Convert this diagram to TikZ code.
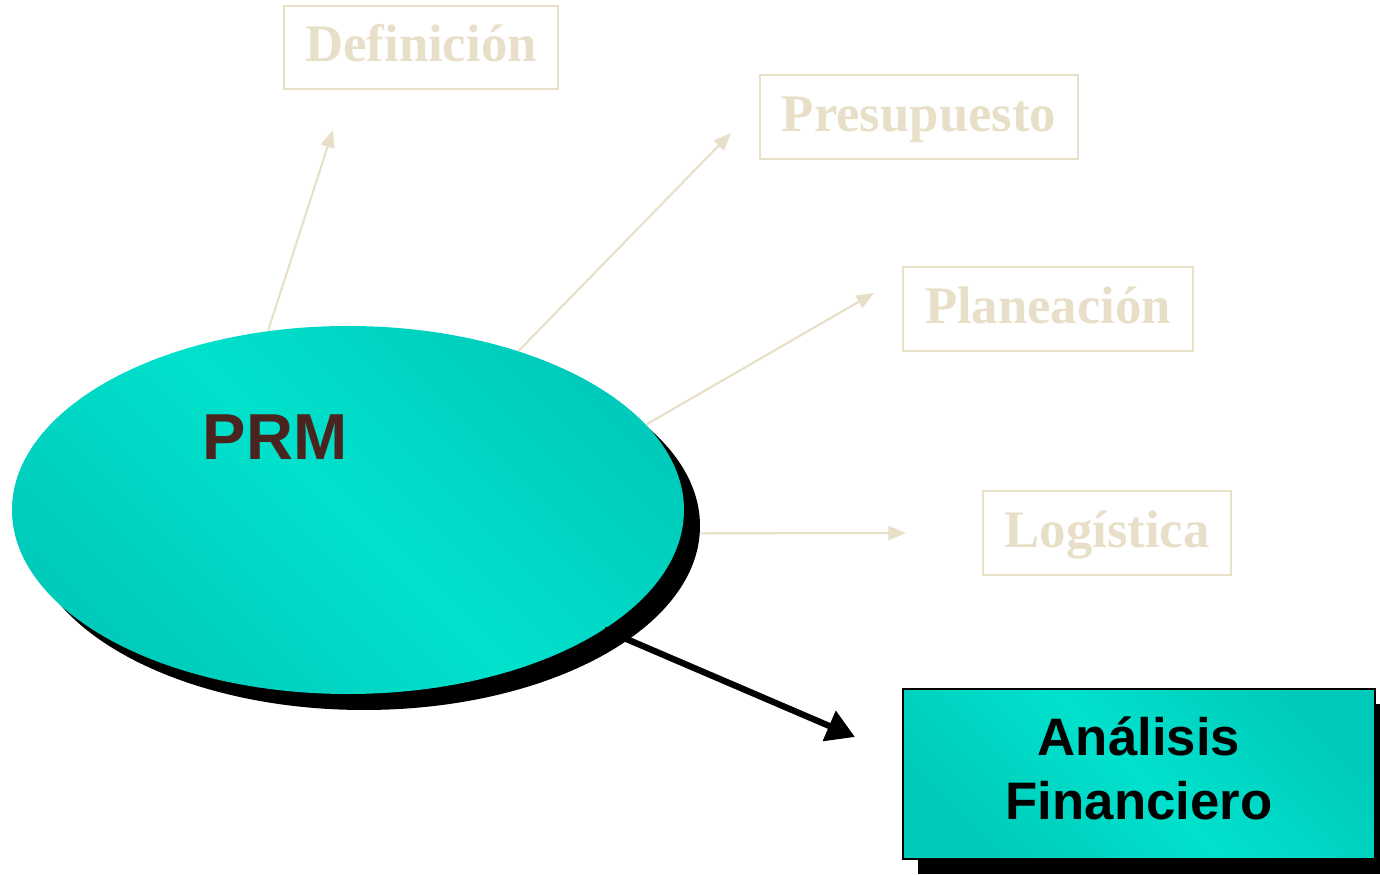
\documentclass[tikz,border=0pt]{standalone}
\usepackage{fontspec}
\setmainfont{Liberation Serif}
\setsansfont{Liberation Sans}
\usetikzlibrary{arrows.meta}
\usetikzlibrary{shapes.geometric, shadows}
\definecolor{beige}{RGB}{232,223,200}
\definecolor{tealdark}{RGB}{0,203,186}
\definecolor{teallight}{RGB}{0,225,204}
\definecolor{prmbrown}{RGB}{74,37,32}
\tikzstyle{topic} = [rectangle, minimum height=0.84cm, text centered, text height=0.9em, text depth=0.1em, draw=beige, line width=0.6pt, text=beige, font=\fontsize{15}{18}\selectfont\bfseries]
\tikzstyle{hub} = [ellipse, minimum width=6.72cm, minimum height=3.68cm, inner sep=0pt, left color=tealdark, right color=tealdark, middle color=teallight, shading angle=-45, drop shadow={shadow xshift=0.16cm, shadow yshift=-0.16cm, fill=black, opacity=1}]
\tikzstyle{result} = [rectangle, minimum width=4.72cm, minimum height=1.70cm, align=center, text depth=0.12cm, draw=black, line width=0.6pt, left color=tealdark, right color=tealdark, middle color=teallight, shading angle=-45, drop shadow={shadow xshift=0.15cm, shadow yshift=-0.15cm, fill=black, opacity=1}, font=\sffamily\bfseries\fontsize{15}{18.2}\selectfont]
\tikzstyle{arrow} = [line width=0.6pt, draw=beige, -{Triangle[length=5pt,width=4pt]}]
\tikzstyle{boldarrow} = [line width=1.8pt, draw=black, -{Triangle[length=8pt,width=9pt]}]

\begin{document}
\begin{tikzpicture}
    \useasboundingbox (0,0) rectangle (13.8,8.75);
    \node (prm) [hub] at (3.48,3.65) {};
    \node (prmtext) at (2.75,4.38) [text=prmbrown, font=\sffamily\bfseries\fontsize{18.5}{22}\selectfont] {PRM};
    \node (defn) [topic, minimum width=2.74cm, minimum height=0.83cm] at (4.21,8.275) {Definición};
    \node (budget) [topic, minimum width=3.18cm] at (9.19,7.58) {Presupuesto};
    \node (plan) [topic, minimum width=2.90cm] at (10.48,5.66) {Planeación};
    \node (logis) [topic, minimum width=2.48cm] at (11.07,3.42) {Logística};
    \node (finance) [result] at (11.39,1.01) {Análisis\\Financiero};
    % arrow tips stop short of the boxes
    \coordinate (defntip) at (3.33,7.45);
    \coordinate (budgettip) at (7.31,7.42);
    \coordinate (plantip) at (8.74,5.82);
    \coordinate (logistip) at (9.06,3.42);
    \coordinate (financetip) at (8.55,1.38);
    \draw [arrow] (prm.114) -- (defntip);
    \draw [arrow] (prm.43) -- (budgettip);
    \draw [arrow] (prm.16) -- (plantip);
    \draw [arrow, shorten <=0.19cm] (prm.-4) -- (logistip);
    \draw [boldarrow] (prm.-25) -- (financetip);
\end{tikzpicture}
\end{document}
